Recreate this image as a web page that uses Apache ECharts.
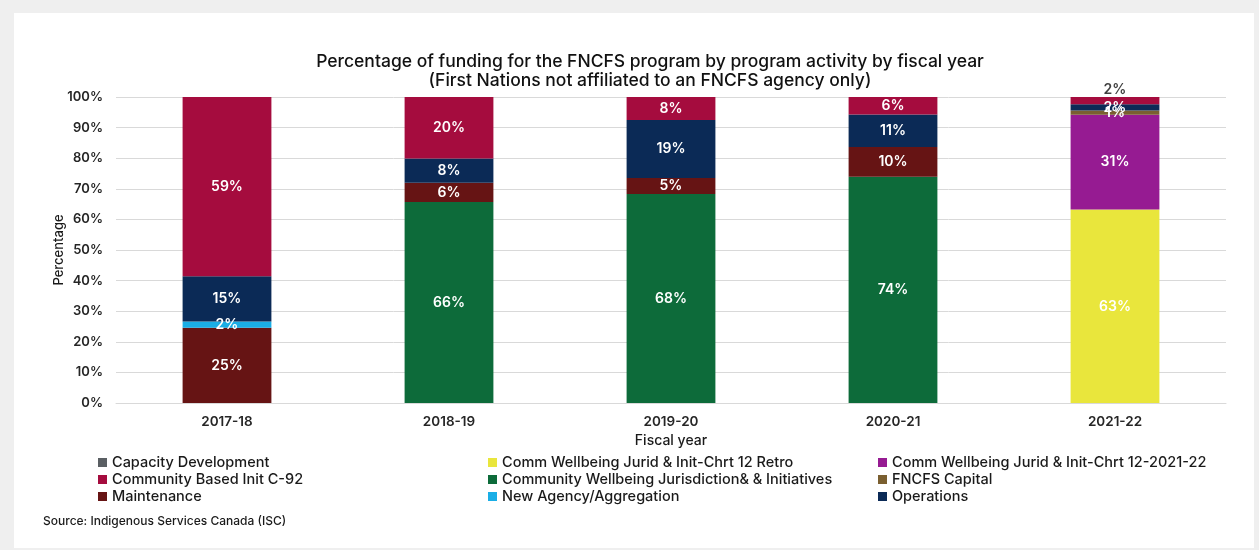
<!DOCTYPE html>
<html>
<head>
<meta charset="utf-8">
<script src="https://cdn.jsdelivr.net/npm/echarts@6/dist/echarts.min.js"></script>
<style>
  html, body { margin: 0; padding: 0; background: #efefef; }
  #card { position: absolute; left: 14px; top: 13px; width: 1240px; height: 535px; background: #ffffff; }
  #chart { position: absolute; left: 0; top: 0; width: 1259px; height: 550px; }
</style>
</head>
<body>
<div id="card"></div>
<div id="chart"></div>
<script>
// Fiscal years on the category axis
const fiscalYears = ['2017-18', '2018-19', '2019-20', '2020-21', '2021-22'];
const yTicks = [0, 10, 20, 30, 40, 50, 60, 70, 80, 90, 100];

// Share of funding (%) per program activity, one value per fiscal year
const capacityDevelopment = [null, null, null, null, null];
const commWellbeingRetro  = [null, null, null, null, 63.2];
const commWellbeing202122 = [null, null, null, null, 31.0];
const communityBasedC92   = [58.6, 20.1, 7.5, 5.7, 2.4];
const communityWellbeing  = [null, 65.7, 68.3, 73.9, null];
const fncfsCapital        = [null, null, null, null, 1.4];
const maintenance         = [24.6, 6.3, 5.2, 9.8, null];
const newAgency           = [2.0, null, null, null, null];
const operations          = [14.8, 7.9, 19.0, 10.6, 2.0];

const FONT = 'Inter, "Noto Sans", sans-serif';

// Series definitions (stacked bottom to top in this order)
const seriesDefs = [
  { name: 'Comm Wellbeing Jurid & Init-Chrt 12 Retro', data: commWellbeingRetro, color: '#e9e63c' },
  { name: 'Community Wellbeing Jurisdiction& & Initiatives', data: communityWellbeing, color: '#0d6b3a' },
  { name: 'Comm Wellbeing Jurid & Init-Chrt 12-2021-22', data: commWellbeing202122, color: '#961b92' },
  { name: 'Maintenance', data: maintenance, color: '#661414' },
  { name: 'New Agency/Aggregation', data: newAgency, color: '#1aaee6' },
  { name: 'FNCFS Capital', data: fncfsCapital, color: '#7a5f30' },
  { name: 'Operations', data: operations, color: '#0b2a56' },
  { name: 'Community Based Init C-92', data: communityBasedC92, color: '#a50c3e', outsideLast: true },
  { name: 'Capacity Development', data: capacityDevelopment, color: '#5a5f63' }
];

const pctLabel = p => (p.value == null ? '' : Math.round(p.value) + '%');

const series = seriesDefs.map(def => ({
  name: def.name,
  type: 'bar',
  stack: 'total',
  barWidth: '40%',
  itemStyle: { color: def.color },
  label: {
    show: true,
    position: 'inside',
    color: '#ffffff',
    fontFamily: FONT,
    fontSize: 14,
    fontWeight: 600,
    formatter: pctLabel
  },
  labelLayout: { hideOverlap: false },
  data: def.data.map((v, i) => {
    // thin top slice in the last year carries its label above the bar
    if (def.outsideLast && i === def.data.length - 1) {
      return { value: v, label: { position: 'top', distance: 0, offset: [0, 3], color: '#404040' } };
    }
    return v;
  })
}));

const legendText = { fontFamily: FONT, fontSize: 14.5, fontWeight: 500, color: '#1a1a1a', lineHeight: 17 };
const legendCommon = {
  orient: 'vertical',
  top: 449,
  itemWidth: 9,
  itemHeight: 9,
  itemGap: 0,
  icon: 'rect',
  selectedMode: false,
  textStyle: legendText
};

const chart = echarts.init(document.getElementById('chart'), null, { renderer: 'canvas' });
chart.setOption({
  animation: false,
  backgroundColor: 'transparent',
  title: {
    text: 'Percentage of funding for the FNCFS program by program activity by fiscal year\n(First Nations not affiliated to an FNCFS agency only)',
    left: 645,
    top: 47,
    textAlign: 'center',
    textStyle: { fontFamily: FONT, fontSize: 17.5, fontWeight: 500, color: '#111111', lineHeight: 19, align: 'center' }
  },
  legend: [
    Object.assign({}, legendCommon, { left: 93, data: ['Capacity Development', 'Community Based Init C-92', 'Maintenance'] }),
    Object.assign({}, legendCommon, { left: 483, data: ['Comm Wellbeing Jurid & Init-Chrt 12 Retro', 'Community Wellbeing Jurisdiction& & Initiatives', 'New Agency/Aggregation'] }),
    Object.assign({}, legendCommon, { left: 873, data: ['Comm Wellbeing Jurid & Init-Chrt 12-2021-22', 'FNCFS Capital', 'Operations'] })
  ],
  grid: { left: 116, right: 33, top: 97, bottom: 147 },
  xAxis: {
    type: 'category',
    data: fiscalYears,
    name: 'Fiscal year',
    nameLocation: 'middle',
    nameGap: 31,
    nameTextStyle: { fontFamily: FONT, fontSize: 14, fontWeight: 500, color: '#1a1a1a' },
    axisLine: { lineStyle: { color: '#d9d9d9' } },
    axisTick: { show: false },
    axisLabel: { fontFamily: FONT, fontSize: 13.5, fontWeight: 600, color: '#262626', margin: 12 }
  },
  yAxis: {
    type: 'value',
    min: yTicks[0],
    max: yTicks[yTicks.length - 1],
    interval: yTicks[1] - yTicks[0],
    name: 'Percentage',
    nameLocation: 'middle',
    nameGap: 50,
    nameMoveOverlap: false,
    nameTextStyle: { fontFamily: FONT, fontSize: 13, fontWeight: 500, color: '#1a1a1a' },
    axisLine: { show: false },
    axisTick: { show: false },
    splitLine: { lineStyle: { color: '#d9d9d9' } },
    axisLabel: { fontFamily: FONT, fontSize: 13, fontWeight: 600, color: '#262626', margin: 13, formatter: '{value}%' }
  },
  graphic: [
    {
      type: 'text',
      left: 43,
      top: 515,
      style: { text: 'Source: Indigenous Services Canada (ISC)', fontFamily: FONT, fontSize: 12, fontWeight: 500, fill: '#1a1a1a' }
    }
  ],
  series: series
});
</script>
</body>
</html>
